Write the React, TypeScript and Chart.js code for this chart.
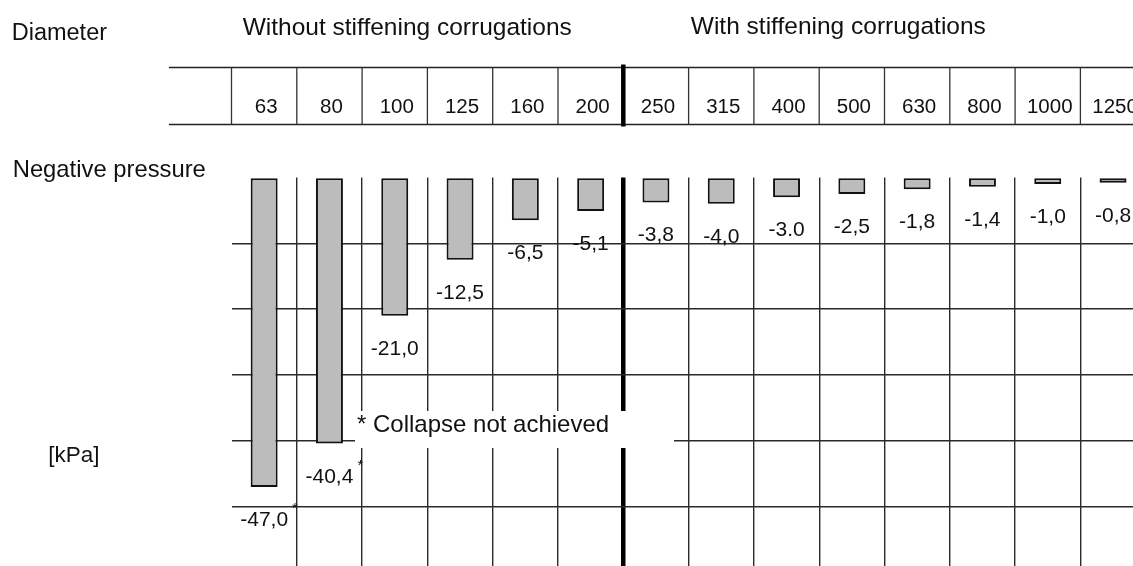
import React, { useEffect, useRef } from 'react';
import { Chart, registerables } from 'chart.js';

Chart.register(...registerables);

// ---- data ----
const diameters = ['63', '80', '100', '125', '160', '200', '250', '315', '400', '500', '630', '800', '1000', '1250'];
const negativePressure = [-47.0, -40.4, -21.0, -12.5, -6.5, -5.1, -3.8, -4.0, -3.0, -2.5, -1.8, -1.4, -1.0, -0.8];
const valueLabels = ['-47,0', '-40,4', '-21,0', '-12,5', '-6,5', '-5,1', '-3,8', '-4,0', '-3.0', '-2,5', '-1,8', '-1,4', '-1,0', '-0,8'];
const collapseNotAchieved = [true, true, false, false, false, false, false, false, false, false, false, false, false, false];
const groupTitles = ['Without stiffening corrugations', 'With stiffening corrugations'];
const firstStiffenedIndex = 6;
const yMin = -59;
const yMax = 0;
const yStep = 10;

const FONT = '"Liberation Sans", Arial, Helvetica, sans-serif';
const INK = '#111111';

const decorPlugin = {
  id: 'decor',
  afterDatasetsDraw(chart: any) {
    const ctx = chart.ctx as CanvasRenderingContext2D;
    const x = chart.scales.x;
    const meta = chart.getDatasetMeta(0);
    const W = chart.width;
    ctx.save();

    // header table
    const top = 67.5;
    const bottom = 124.5;
    ctx.strokeStyle = '#222';
    ctx.lineWidth = 1.4;
    ctx.beginPath();
    ctx.moveTo(169, top);
    ctx.lineTo(W, top);
    ctx.moveTo(169, bottom);
    ctx.lineTo(W, bottom);
    ctx.stroke();
    for (let i = 0; i <= diameters.length; i++) {
      const bx = x.getPixelForValue(i - 0.5);
      ctx.beginPath();
      if (i === firstStiffenedIndex) {
        ctx.lineWidth = 4.5;
        ctx.strokeStyle = '#000';
        ctx.moveTo(bx, top - 3);
        ctx.lineTo(bx, bottom + 2);
      } else {
        ctx.lineWidth = 1.3;
        ctx.strokeStyle = '#333';
        ctx.moveTo(bx, top);
        ctx.lineTo(bx, bottom);
      }
      ctx.stroke();
    }

    ctx.fillStyle = INK;
    ctx.textBaseline = 'alphabetic';
    ctx.font = `20.5px ${FONT}`;
    ctx.textAlign = 'center';
    diameters.forEach((d, i) => {
      ctx.fillText(d, x.getPixelForValue(i) + 2, 113);
    });

    // value labels under bars
    ctx.font = `21px ${FONT}`;
    meta.data.forEach((bar: any, i: number) => {
      const ty = bar.y + 39;
      ctx.textAlign = 'center';
      ctx.fillText(valueLabels[i], bar.x, ty);
      if (collapseNotAchieved[i]) {
        const w = ctx.measureText(valueLabels[i]).width;
        ctx.save();
        ctx.font = `15px ${FONT}`;
        ctx.textAlign = 'left';
        ctx.fillText('*', bar.x + w / 2 + 4, ty - 12.5);
        ctx.restore();
      }
    });

    // note
    ctx.fillStyle = '#ffffff';
    ctx.fillRect(355, 411, 319, 37);
    ctx.fillStyle = INK;
    ctx.font = `24px ${FONT}`;
    ctx.textAlign = 'left';
    ctx.fillText('* Collapse not achieved', 357, 432);

    // titles
    ctx.font = `23.5px ${FONT}`;
    ctx.fillText('Diameter', 11.7, 40);
    ctx.font = `23.8px ${FONT}`;
    ctx.fillText('Negative pressure', 12.7, 177);
    ctx.font = `24.5px ${FONT}`;
    ctx.fillText(groupTitles[0], 242.7, 34.5);
    ctx.fillText(groupTitles[1], 690.8, 34);
    ctx.font = `22.5px ${FONT}`;
    ctx.fillText('[kPa]', 48.3, 462);

    ctx.restore();
  },
};

export default function App() {
  const canvasRef = useRef<HTMLCanvasElement | null>(null);

  useEffect(() => {
    if (!canvasRef.current) return;
    const chart = new Chart(canvasRef.current, {
      type: 'bar',
      data: {
        labels: diameters,
        datasets: [
          {
            data: negativePressure,
            backgroundColor: '#bcbcbc',
            borderColor: '#111111',
            borderWidth: 2,
            borderSkipped: false,
            barPercentage: 0.413,
            categoryPercentage: 1,
          },
        ],
      },
      options: {
        animation: false,
        responsive: true,
        maintainAspectRatio: false,
        layout: { padding: { left: 231.5, top: 177.45, right: 1.3, bottom: 0 } },
        plugins: {
          legend: { display: false },
          tooltip: { enabled: false },
          title: { display: false },
        },
        scales: {
          x: {
            type: 'category',
            offset: true,
            ticks: { display: false },
            border: { display: false },
            grid: {
              offset: true,
              drawTicks: false,
              color: (c: any) =>
                c.index === 0 ? 'rgba(0,0,0,0)' : c.index === firstStiffenedIndex ? '#000000' : '#2a2a2a',
              lineWidth: (c: any) => (c.index === firstStiffenedIndex ? 4.5 : 1.4),
            },
          },
          y: {
            min: yMin,
            max: yMax,
            ticks: { display: false, stepSize: yStep },
            border: { display: false },
            grid: {
              drawTicks: false,
              lineWidth: 1.4,
              color: (c: any) =>
                c.tick && c.tick.value % yStep === 0 && c.tick.value !== 0 ? '#2a2a2a' : 'rgba(0,0,0,0)',
            },
          },
        },
      },
      plugins: [decorPlugin],
    });
    return () => chart.destroy();
  }, []);

  return (
    <div
      style={{
        position: 'fixed',
        left: 0,
        top: 0,
        width: 1133,
        height: 566,
        overflow: 'hidden',
        background: '#ffffff',
      }}
    >
      <div style={{ position: 'relative', width: 1147, height: 566 }}>
        <canvas ref={canvasRef} />
      </div>
    </div>
  );
}
